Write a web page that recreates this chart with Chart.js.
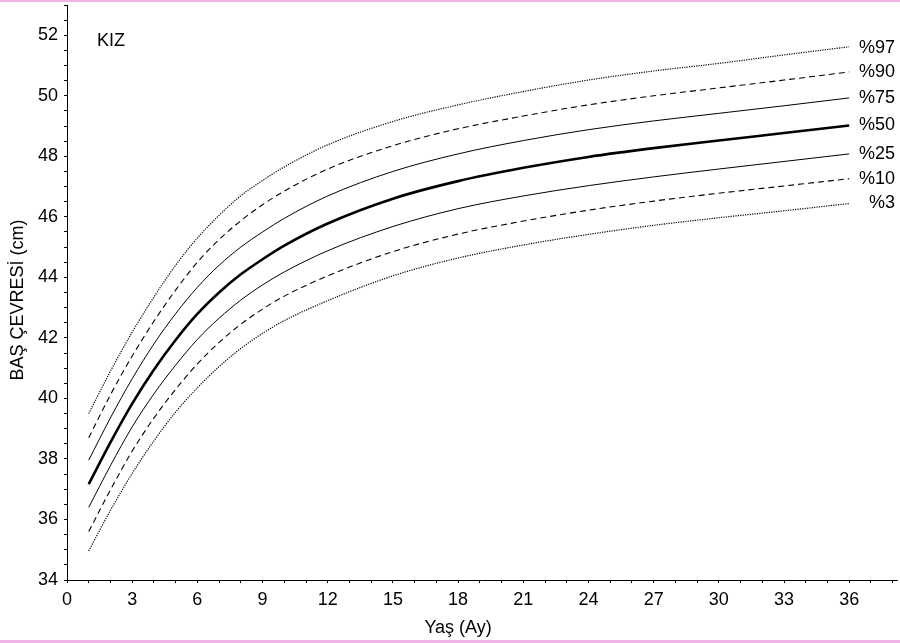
<!DOCTYPE html>
<html>
<head>
<meta charset="utf-8">
<script src="https://cdn.jsdelivr.net/npm/chart.js@4.4.1/dist/chart.umd.min.js"></script>
<style>
  html, body { margin: 0; padding: 0; background: #fff; }
  #wrap { position: relative; width: 900px; height: 643px; }
  .bar { position: absolute; left: 0; width: 900px; background: #eeb4e6; }
  #topbar { top: 0; height: 2px; }
  #botbar { bottom: 0; height: 3px; }
  canvas { position: absolute; left: 0; top: 0; }
</style>
</head>
<body>
<div id="wrap">
  <div class="bar" id="topbar"></div>
  <div class="bar" id="botbar"></div>
  <canvas id="c" width="900" height="643"></canvas>
</div>
<script>
// Age in months
const months = [1, 2, 3, 4, 5, 6, 7, 8, 9, 10, 12, 15, 18, 21, 24, 27, 30, 33, 36];
// Head circumference percentiles (cm)
const p97 = [39.5, 40.9, 42.19, 43.35, 44.4, 45.30, 46.05, 46.7, 47.2, 47.65, 48.38, 49.15, 49.70, 50.14, 50.52, 50.82, 51.07, 51.35, 51.62];
const p90 = [38.7, 40.12, 41.40, 42.55, 43.58, 44.50, 45.25, 45.87, 46.4, 46.85, 47.58, 48.35, 48.91, 49.33, 49.70, 50.0, 50.26, 50.52, 50.79];
const p75 = [37.96, 39.36, 40.65, 41.8, 42.8, 43.67, 44.4, 45.0, 45.5, 45.95, 46.69, 47.5, 48.08, 48.52, 48.88, 49.17, 49.42, 49.67, 49.93];
const p50 = [37.17, 38.55, 39.83, 40.95, 41.93, 42.79, 43.5, 44.1, 44.6, 45.05, 45.78, 46.6, 47.18, 47.62, 47.98, 48.27, 48.52, 48.77, 49.02];
const p25 = [36.4, 37.78, 39.06, 40.15, 41.1, 41.95, 42.65, 43.25, 43.75, 44.18, 44.88, 45.68, 46.27, 46.69, 47.03, 47.32, 47.58, 47.83, 48.08];
const p10 = [35.6, 36.98, 38.26, 39.35, 40.3, 41.14, 41.85, 42.45, 42.95, 43.38, 44.05, 44.85, 45.43, 45.86, 46.22, 46.52, 46.78, 47.02, 47.26];
const p3  = [34.96, 36.3, 37.52, 38.6, 39.55, 40.35, 41.05, 41.65, 42.15, 42.57, 43.23, 44.05, 44.64, 45.07, 45.42, 45.72, 45.97, 46.2, 46.44];
const seriesLabels = ['%97', '%90', '%75', '%50', '%25', '%10', '%3'];
const xTickLabels = [0, 3, 6, 9, 12, 15, 18, 21, 24, 27, 30, 33, 36];
const yTickLabels = [34, 36, 38, 40, 42, 44, 46, 48, 50, 52];
const panelLabel = 'KIZ';
const xTitle = 'Yaş (Ay)';
const yTitle = 'BAŞ ÇEVRESİ (cm)';

const FONT = '"Liberation Sans", Arial, Helvetica, sans-serif';
const FSIZE = 18;
const allSeries = [p97, p90, p75, p50, p25, p10, p3];
const styles = [
  { w: 1.2, dash: [1.2, 1.2] },
  { w: 1.1, dash: [6, 4] },
  { w: 1, dash: [] },
  { w: 2.6, dash: [] },
  { w: 1, dash: [] },
  { w: 1.1, dash: [6, 4] },
  { w: 1.2, dash: [1.2, 1.2] }
];

const datasets = allSeries.map((s, i) => ({
  label: seriesLabels[i],
  data: months.map((m, j) => ({ x: m, y: s[j] })),
  borderColor: '#000',
  borderWidth: styles[i].w,
  borderDash: styles[i].dash,
  pointRadius: 0,
  fill: false,
  cubicInterpolationMode: 'monotone'
}));

const textPlugin = {
  id: 'texts',
  afterDraw(chart) {
    const ctx = chart.ctx;
    const xs = chart.scales.x, ys = chart.scales.y;
    ctx.save();
    ctx.fillStyle = '#000';
    ctx.font = FSIZE + 'px ' + FONT;
    ctx.textBaseline = 'middle';
    ctx.textAlign = 'left';
    ctx.fillText(panelLabel, 97, 41);
    ctx.textAlign = 'right';
    allSeries.forEach((s, i) => {
      const y = ys.getPixelForValue(s[s.length - 1]);
      ctx.fillText(seriesLabels[i], 895, y + (i === 0 ? 1.5 : 0));
    });
    ctx.textAlign = 'center';
    const cx = (xs.getPixelForValue(0) + xs.getPixelForValue(36)) / 2;
    ctx.fillText(xTitle, cx, 628);
    ctx.translate(18, 300);
    ctx.rotate(-Math.PI / 2);
    ctx.fillText(yTitle, 0, 0);
    ctx.restore();
  }
};

new Chart(document.getElementById('c'), {
  type: 'line',
  data: { datasets },
  options: {
    responsive: false,
    animation: false,
    layout: { padding: { top: 5, right: 3, left: 0, bottom: 0 } },
    plugins: { legend: { display: false }, tooltip: { enabled: false } },
    scales: {
      x: {
        type: 'linear',
        min: 0,
        max: 38.2,
        afterFit(scale) { scale.height = 63; scale.paddingLeft = 0; scale.paddingRight = 0; },
        border: { display: true, color: '#000', width: 1 },
        grid: { drawOnChartArea: false, drawTicks: true, tickLength: 3, color: '#000' },
        ticks: {
          stepSize: 1,
          includeBounds: false,
          autoSkip: false,
          maxRotation: 0,
          padding: 6,
          color: '#000',
          font: { family: FONT, size: FSIZE },
          callback: v => xTickLabels.includes(v) ? String(v) : ''
        }
      },
      y: {
        type: 'linear',
        min: 34,
        max: 53,
        afterFit(scale) { scale.width = 67; scale.paddingTop = 0; scale.paddingBottom = 0; },
        border: { display: true, color: '#000', width: 1 },
        grid: { drawOnChartArea: false, drawTicks: true, tickLength: 3, color: '#000' },
        ticks: {
          stepSize: 0.5,
          includeBounds: false,
          autoSkip: false,
          padding: 6,
          color: '#000',
          font: { family: FONT, size: FSIZE },
          callback: v => yTickLabels.includes(v) ? String(v) : ''
        }
      }
    }
  },
  plugins: [textPlugin]
});
</script>
</body>
</html>
